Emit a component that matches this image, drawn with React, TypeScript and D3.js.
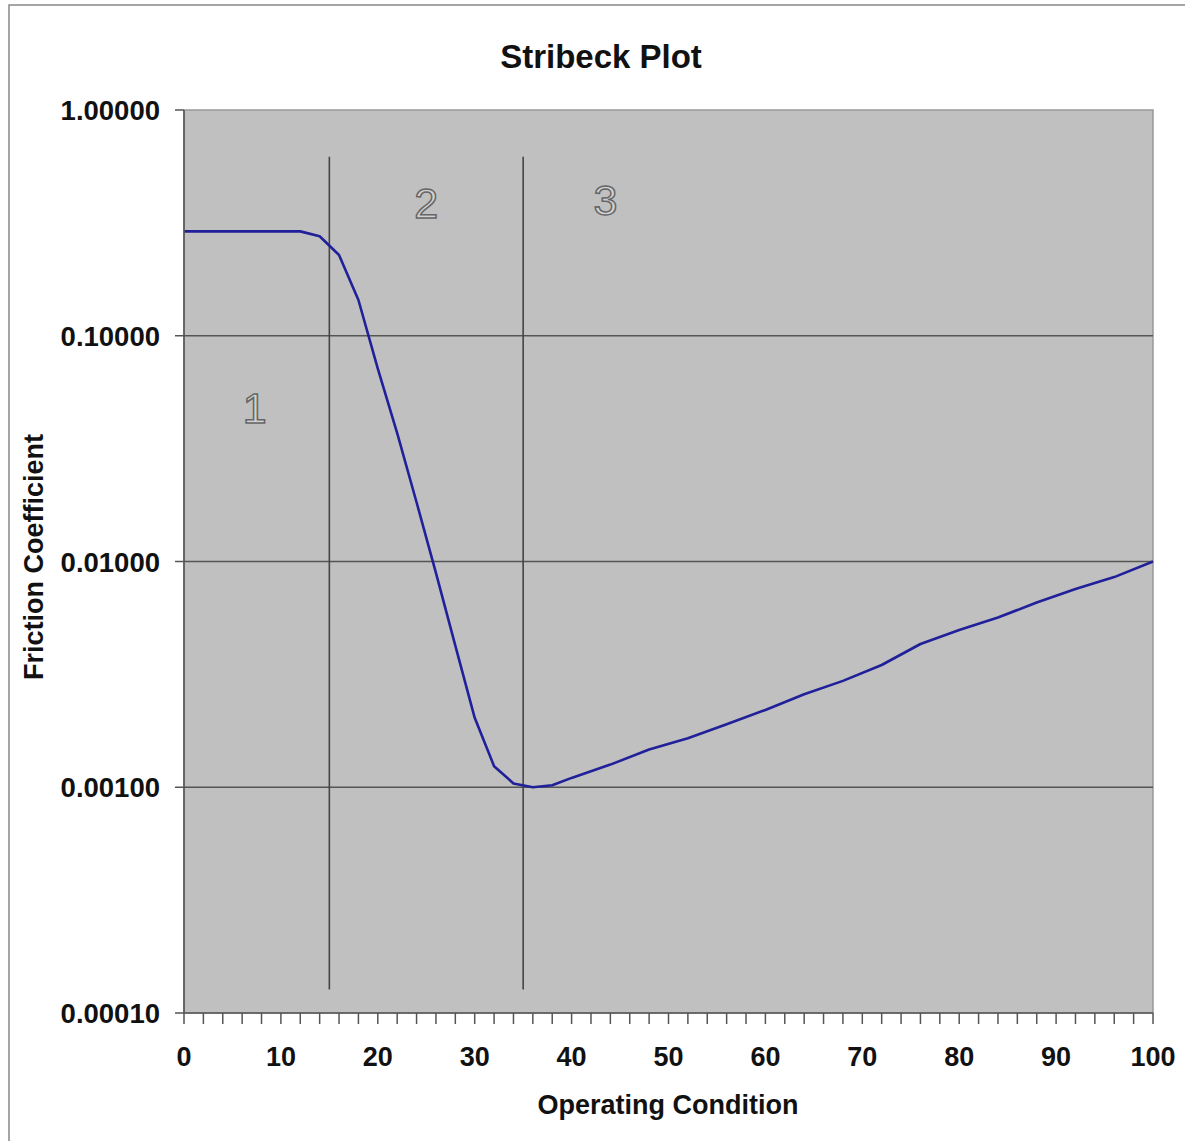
import * as d3 from 'd3';

// Stribeck curve
const opCond = [0, 2, 4, 6, 8, 10, 12, 14, 16, 18, 20, 22, 24, 26, 28, 30, 32, 34, 36, 38, 40, 44, 48, 52, 56, 60, 64, 68, 72, 76, 80, 84, 88, 92, 96, 100];
const friction = [0.29, 0.29, 0.29, 0.29, 0.29, 0.29, 0.29, 0.276, 0.228, 0.144, 0.0715, 0.037, 0.0183, 0.0089, 0.00424, 0.00203, 0.00124, 0.00104, 0.001, 0.00102, 0.0011, 0.00126, 0.00147, 0.00165, 0.0019, 0.0022, 0.00258, 0.00296, 0.00348, 0.00431, 0.00497, 0.00565, 0.00658, 0.00755, 0.00853, 0.01];

// regime boundaries (vertical lines) and their extent
const boundaries = [15, 35];
const boundarySpan = [0.62, 0.000127];

// regime labels (baseline positions in data units)
const regimeNames = ['1', '2', '3'];
const regimeX = [7.3, 25, 43.5];
const regimeY = [0.041, 0.332, 0.342];

const yTicks = [1, 0.1, 0.01, 0.001, 0.0001];
const xTicks = [0, 10, 20, 30, 40, 50, 60, 70, 80, 90, 100];
const xMinor = d3.range(0, 101, 2);

const width = 1185;
const height = 1141;
const m = { left: 184, right: 1153, top: 110, bottom: 1013 };

const App = () => {
  const x = d3.scaleLinear().domain([0, 100]).range([m.left, m.right]);
  const y = d3.scaleLog().domain([0.0001, 1]).range([m.bottom, m.top]);

  const line = d3.line<number>()
    .x((d, i) => x(opCond[i]))
    .y((d) => y(d));

  const font = '"Liberation Sans", Arial, sans-serif';

  return (
    <svg width={width} height={height} style={{ position: 'absolute', left: 0, top: 0, background: '#fff' }} fontFamily={font}>
      <rect x={9} y={5} width={1300} height={1300} fill="#fff" stroke="#888" strokeWidth={1.5} />
      <text x={601} y={68} textAnchor="middle" fontSize={33} fontWeight="bold" fill="#111">Stribeck Plot</text>

      {/* plot area */}
      <rect x={m.left} y={m.top} width={m.right - m.left} height={m.bottom - m.top} fill="#c0c0c0" stroke="#999" strokeWidth={1.5} />

      {yTicks.slice(1, 4).map((t) => (
        <line key={'g' + t} x1={m.left} x2={m.right} y1={y(t)} y2={y(t)} stroke="#555" strokeWidth={1.6} />
      ))}

      {boundaries.map((b) => (
        <line key={'b' + b} x1={x(b)} x2={x(b)} y1={y(boundarySpan[0])} y2={y(boundarySpan[1])} stroke="#444" strokeWidth={1.6} />
      ))}

      {regimeNames.map((n, i) => (
        <text key={'r' + n} x={x(regimeX[i])} y={y(regimeY[i])} textAnchor="middle" fontSize={43} fill="#d2d2d2" stroke="#666" strokeWidth={1.5}>
          {n}
        </text>
      ))}

      <path d={line(friction) || ''} fill="none" stroke="#20209a" strokeWidth={2.6} strokeLinejoin="round" />

      {/* axes */}
      <line x1={m.left} x2={m.left} y1={m.top} y2={m.bottom} stroke="#555" strokeWidth={1.6} />
      <line x1={m.left} x2={m.right} y1={m.bottom} y2={m.bottom} stroke="#555" strokeWidth={1.6} />
      {yTicks.map((t) => (
        <g key={'y' + t}>
          <line x1={m.left - 9} x2={m.left} y1={y(t)} y2={y(t)} stroke="#555" strokeWidth={1.5} />
          <text x={160} y={y(t) + 10} textAnchor="end" fontSize={27.5} fontWeight="bold" fill="#111">{t.toFixed(5)}</text>
        </g>
      ))}
      {xMinor.map((t) => (
        <line key={'xm' + t} x1={x(t)} x2={x(t)} y1={m.bottom} y2={m.bottom + 11} stroke="#555" strokeWidth={1.5} />
      ))}
      {xTicks.map((t) => (
        <text key={'x' + t} x={x(t)} y={1066} textAnchor="middle" fontSize={27} fontWeight="bold" fill="#111">{t}</text>
      ))}
      <text x={668} y={1114} textAnchor="middle" fontSize={27} fontWeight="bold" fill="#111">Operating Condition</text>
      <text transform={`translate(43,557) rotate(-90)`} textAnchor="middle" fontSize={27} fontWeight="bold" fill="#111">Friction Coefficient</text>
    </svg>
  );
};

export default App;
